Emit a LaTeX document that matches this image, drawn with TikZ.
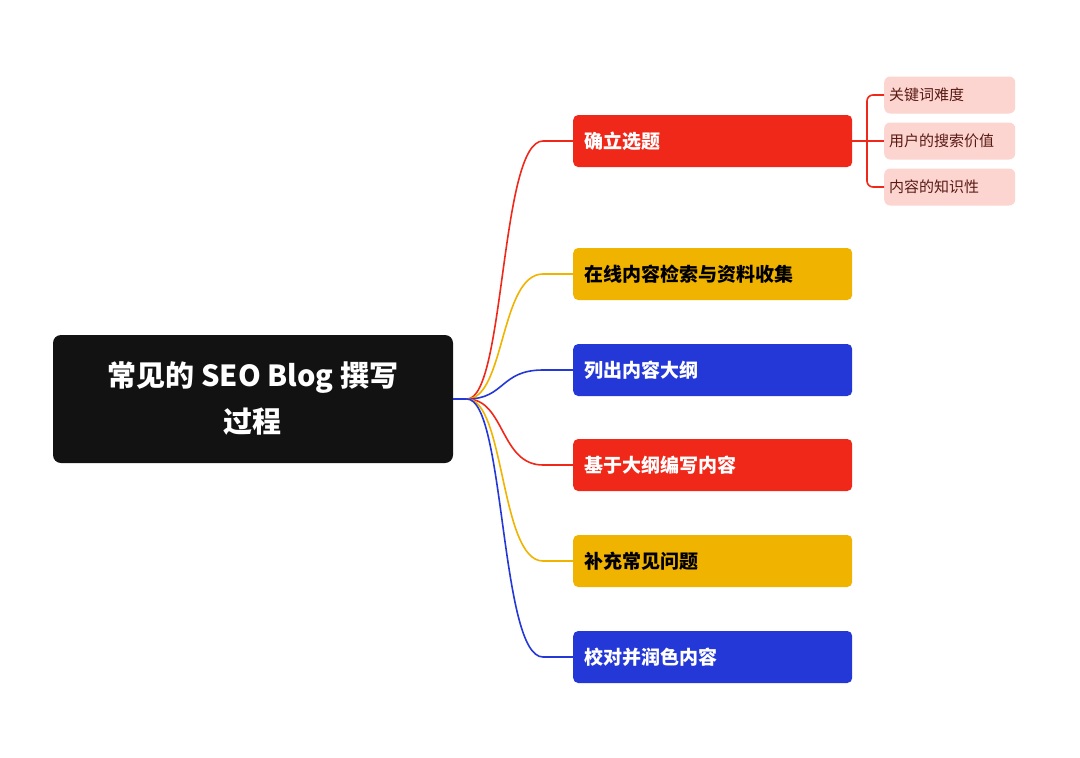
\documentclass[tikz,border=0pt]{standalone}
\usepackage{fontspec}
\setmainfont{Noto Sans CJK SC}
\begin{document}
\begin{tikzpicture}[x=1pt,y=-1pt,
  br/.style={rounded corners=5pt,minimum width=279pt,minimum height=52pt,anchor=west,text width=257pt,align=left,font=\fontsize{19}{22}\selectfont\bfseries},
  sub/.style={rounded corners=6pt,fill=pinkc,minimum width=131pt,minimum height=37pt,anchor=west,text width=121pt,align=left,text=subt,font=\fontsize{15}{18}\selectfont},
  con/.style={line width=1.6pt}]
\definecolor{redc}{HTML}{F0281A}
\definecolor{yelc}{HTML}{F0B400}
\definecolor{bluc}{HTML}{2438D8}
\definecolor{pinkc}{HTML}{FDD5D0}
\definecolor{subt}{HTML}{5A1A14}
\useasboundingbox (0,0) rectangle (1080,758);
\fill[white] (0,0) rectangle (1080,758);
\node[fill=black!93,rounded corners=8pt,minimum width=400pt,minimum height=128pt,text=white,align=center,font=\fontsize{29}{46}\selectfont\bfseries] (root) at (253,399) {常见的 SEO Blog 撰写\\过程};
\coordinate (hub) at (467,399);
\node[br,fill=redc,text=white] (b1) at (573,141) {确立选题};
\node[br,fill=yelc,text=black] (b2) at (573,274) {在线内容检索与资料收集};
\node[br,fill=bluc,text=white] (b3) at (573,370) {列出内容大纲};
\node[br,fill=redc,text=white] (b4) at (573,465) {基于大纲编写内容};
\node[br,fill=yelc,text=black] (b5) at (573,561) {补充常见问题};
\node[br,fill=bluc,text=white] (b6) at (573,657) {校对并润色内容};
\draw[con,bluc] (root.east) -- (hub);
\foreach \b/\c in {b1/redc,b2/yelc,b3/bluc,b4/redc,b5/yelc,b6/bluc}{
  \draw[con,\c] (hub) .. controls (505,399) and (500,0|-\b.west) .. ([xshift=-30pt]\b.west) -- (\b.west);
}
\node[sub] (s1) at (884,95) {关键词难度};
\node[sub] (s2) at (884,141) {用户的搜索价值};
\node[sub] (s3) at (884,187) {内容的知识性};
\coordinate (j) at (867,141);
\draw[con,redc] (b1.east) -- (s2.west);
\draw[con,redc,rounded corners=6pt] (s1.west) -| (j) |- (s3.west);
\end{tikzpicture}
\end{document}
